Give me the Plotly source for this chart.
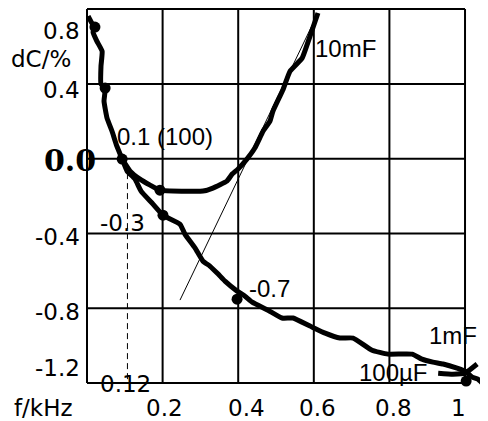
import plotly.graph_objects as go

# ---- data ----
grid_x = [0, 0.2, 0.4, 0.6, 0.8, 1.0]
grid_y = [0.8, 0.4, 0.0, -0.4, -0.8, -1.2]

xtick_labels = ["0.2", "0.4", "0.6", "0.8", "1"]
xtick_pos = [0.206, 0.421, 0.611, 0.810, 0.984]
ytick_labels = ["0.8", "0.4", "-0.4", "-0.8", "-1.2"]
ytick_pos = [0.682, 0.367, -0.419, -0.820, -1.120]

# 100µF curve (shares the left branch)
c100_x = [0.003, 0.013, 0.021, 0.016, 0.026, 0.040, 0.037, 0.037, 0.048, 0.045, 0.053,
          0.066, 0.079, 0.093, 0.106, 0.127, 0.143, 0.172, 0.201, 0.246, 0.259, 0.286,
          0.307, 0.325, 0.347, 0.365, 0.397, 0.418, 0.437, 0.479, 0.516, 0.545, 0.590,
          0.630, 0.669, 0.704, 0.754, 0.796, 0.860, 0.886, 0.915, 0.942, 0.979, 1.000,
          1.019, 1.034, 1.048, 1.061]
c100_y = [0.763, 0.725, 0.704, 0.677, 0.629, 0.575, 0.495, 0.399, 0.378, 0.308, 0.217,
          0.148, 0.067, -0.002, -0.066, -0.109, -0.173, -0.237, -0.302, -0.350, -0.403,
          -0.478, -0.548, -0.574, -0.617, -0.655, -0.708, -0.735, -0.767, -0.810, -0.852,
          -0.852, -0.895, -0.933, -0.959, -0.959, -1.024, -1.045, -1.045, -1.072, -1.088,
          -1.098, -1.120, -1.136, -1.168, -1.179, -1.205, -1.227]

# 10mF curve
c10m_x = [0.093, 0.114, 0.140, 0.167, 0.193, 0.307, 0.333, 0.370, 0.384, 0.399, 0.423,
          0.444, 0.466, 0.484, 0.492, 0.519, 0.537, 0.569, 0.590, 0.611]
c10m_y = [-0.002, -0.066, -0.109, -0.141, -0.168, -0.173, -0.157, -0.120, -0.082, -0.056,
          -0.002, 0.057, 0.148, 0.201, 0.255, 0.372, 0.468, 0.538, 0.656, 0.779]

# 1mF curve (visible end)
c1m_x = [0.929, 0.968, 1.000, 1.032]
c1m_y = [-1.147, -1.152, -1.147, -1.098]

# measurement points
pt_x = [0.021, 0.048, 0.093, 0.193, 0.201, 0.397, 1.003]
pt_y = [0.704, 0.378, -0.002, -0.168, -0.302, -0.751, -1.189]

# tangent line
tan_x = [0.246, 0.611]
tan_y = [-0.756, 0.779]

# dashed marker line at f = 0.12
dash_x = [0.107, 0.107]
dash_y = [-0.077, -1.2]

fig = go.Figure()

# grid box
shapes = []
for gx in grid_x:
    shapes.append(dict(type="line", x0=gx, x1=gx, y0=grid_y[-1], y1=grid_y[0],
                       xref="x", yref="y", line=dict(color="black", width=2), layer="below"))
for gy in grid_y:
    shapes.append(dict(type="line", x0=grid_x[0], x1=grid_x[-1], y0=gy, y1=gy,
                       xref="x", yref="y", line=dict(color="black", width=2), layer="below"))

fig.add_trace(go.Scatter(x=dash_x, y=dash_y, mode="lines",
                         line=dict(color="black", width=1, dash="6px,4px"), hoverinfo="skip"))
fig.add_trace(go.Scatter(x=tan_x, y=tan_y, mode="lines",
                         line=dict(color="black", width=1), hoverinfo="skip"))
for cx, cy in [(c100_x, c100_y), (c10m_x, c10m_y), (c1m_x, c1m_y)]:
    fig.add_trace(go.Scatter(x=cx, y=cy, mode="lines",
                             line=dict(color="black", width=5, shape="spline", smoothing=0.4)))
fig.add_trace(go.Scatter(x=pt_x, y=pt_y, mode="markers",
                         marker=dict(color="black", size=11), cliponaxis=False))

ann = []
tick_font = dict(family="DejaVu Sans", size=23, color="black")
lab_font = dict(family="Liberation Sans", size=24, color="black")
for t, p in zip(ytick_labels, ytick_pos):
    ann.append(dict(x=-0.0132, y=p, text=t, xanchor="right", yanchor="middle", font=tick_font))
for t, p in zip(xtick_labels, xtick_pos):
    ann.append(dict(x=p, y=-1.334, text=t, xanchor="center", yanchor="middle", font=tick_font))
ann.append(dict(x=-0.037, y=0.533, text="dC/%", xanchor="right", yanchor="middle", font=tick_font))
ann.append(dict(x=-0.116, y=-1.334, text="f/kHz", xanchor="center", yanchor="middle", font=tick_font))
ann.append(dict(x=-0.045, y=-0.007, text="<b>0.0</b>", xanchor="center", yanchor="middle",
                font=dict(family="DejaVu Serif", size=30, color="black")))
ann.append(dict(x=0.103, y=-1.205, text="0.12", xanchor="center", yanchor="middle", font=tick_font))
ann.append(dict(x=0.095, y=-0.344, text="-0.3", xanchor="center", yanchor="middle", font=tick_font))
ann.append(dict(x=0.206, y=0.121, text="0.1 (100)", xanchor="center", yanchor="middle", font=lab_font))
ann.append(dict(x=0.685, y=0.591, text="10mF", xanchor="center", yanchor="middle", font=lab_font))
ann.append(dict(x=0.484, y=-0.692, text="-0.7", xanchor="center", yanchor="middle", font=lab_font))
ann.append(dict(x=0.968, y=-0.943, text="1mF", xanchor="center", yanchor="middle", font=lab_font))
ann.append(dict(x=0.810, y=-1.141, text="100µF", xanchor="center", yanchor="middle", font=lab_font))
for a in ann:
    a.update(xref="x", yref="y", showarrow=False)

# page has an 8px body margin; the figure fills the rest of the 488x421 window
fig.update_layout(
    width=480, height=413,
    margin=dict(l=0, r=0, t=0, b=0, pad=0),
    paper_bgcolor="white", plot_bgcolor="white",
    showlegend=False,
    shapes=shapes, annotations=ann,
    xaxis=dict(range=[-0.209, 1.0608], showgrid=False, zeroline=False, showticklabels=False,
               showline=False, ticks=""),
    yaxis=dict(range=[-1.4026, 0.806], showgrid=False, zeroline=False, showticklabels=False,
               showline=False, ticks=""),
)

fig.write_html("out.html")
